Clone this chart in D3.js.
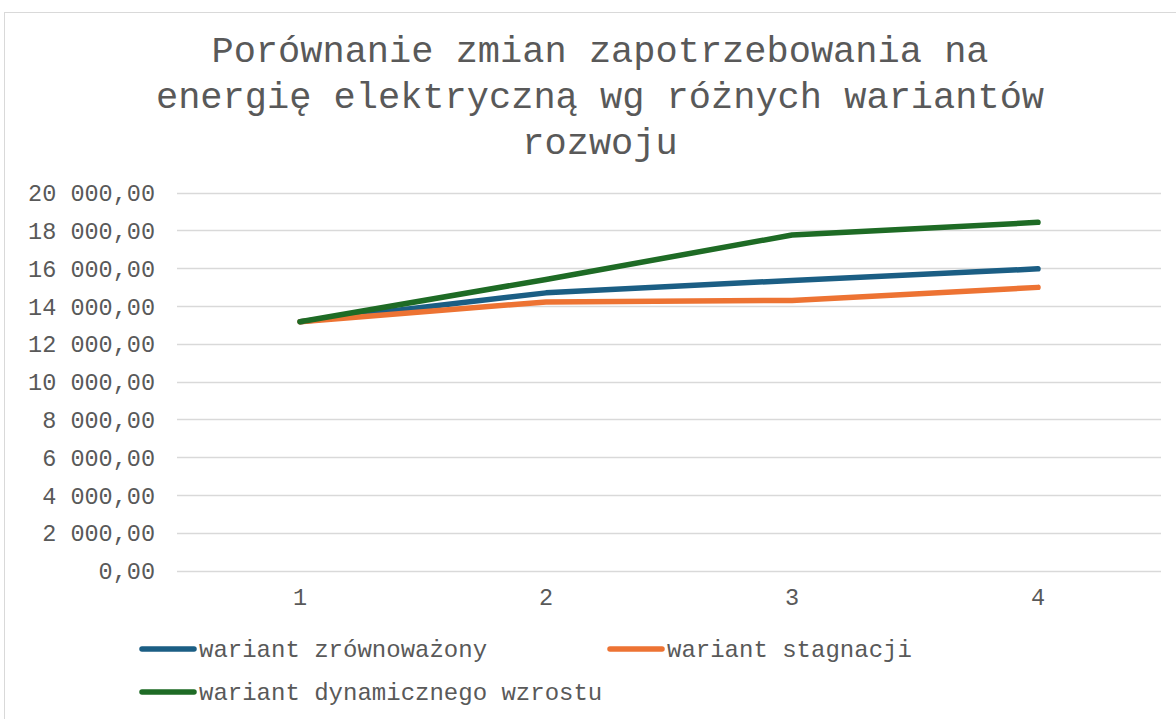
<!DOCTYPE html>
<html><head><meta charset="utf-8">
<script src="https://cdn.jsdelivr.net/npm/d3@7"></script>
<style>body{margin:0;background:#fff}svg{display:block}text{font-family:"Liberation Mono","Courier New",monospace;fill:#595959}</style>
</head><body><svg id="c" width="1176" height="719"></svg>
<script>
const categories = ["1","2","3","4"];
const seriesNames = ["wariant zrównoważony","wariant stagnacji","wariant dynamicznego wzrostu"];
const zrownowazony = [13160, 14690, 15350, 15960];
const stagnacji = [13160, 14210, 14290, 14980];
const dynamiczny = [13160, 15400, 17750, 18420];
const yTicks = [0,2000,4000,6000,8000,10000,12000,14000,16000,18000,20000];
const titleLines = ["Porównanie zmian zapotrzebowania na","energię elektryczną wg różnych wariantów","rozwoju"];
const colors = ["#1b5e84","#ed7333","#1e6b25"];
const seriesData = [zrownowazony, stagnacji, dynamiczny];

const svg = d3.select("#c");
svg.append("rect").attr("x",4.5).attr("y",12.5).attr("width",1200).attr("height",800)
  .attr("fill","#fff").attr("stroke","#d9d9d9").attr("stroke-width",1);

svg.selectAll("text.title").data(titleLines).join("text")
  .attr("x",600).attr("y",(d,i)=>62+i*46).attr("text-anchor","middle")
  .style("font-size","37px").text(d=>d);

const x = d3.scaleBand().domain(categories).range([177,1161]);
const y = d3.scaleLinear().domain([0,20000]).range([570.5,192.5]);

const fmt = v => { const s = d3.format(",.2f")(v); return s.replace(/,/g," ").replace(".",","); };

const grid = svg.append("g");
grid.selectAll("line").data(yTicks).join("line")
  .attr("x1",177).attr("x2",1161).attr("y1",d=>Math.round(y(d))+0.5).attr("y2",d=>Math.round(y(d))+0.5)
  .attr("stroke","#d9d9d9").attr("stroke-width",1.5);

const yAxis = svg.append("g").attr("transform","translate(155,0)")
  .call(d3.axisLeft(y).tickValues(yTicks).tickFormat(fmt).tickSize(0).tickPadding(0));
yAxis.select(".domain").remove();
yAxis.selectAll("text").style("font-size","23.5px").attr("dy","0.35em").attr("fill","#595959");

const xAxis = svg.append("g").attr("transform","translate(0,597)")
  .call(d3.axisBottom(x).tickSize(0).tickPadding(0));
xAxis.select(".domain").remove();
xAxis.selectAll("text").style("font-size","23.5px").attr("dy","0.35em").attr("fill","#595959");

const line = d3.line().x((d,i)=>x(categories[i])+x.bandwidth()/2).y(d=>y(d));
svg.selectAll("path.s").data(seriesData).join("path").attr("class","s")
  .attr("d",line).attr("fill","none").attr("stroke",(d,i)=>colors[i])
  .attr("stroke-width",5.5).attr("stroke-linecap","round").attr("stroke-linejoin","round");

const legendPos = [[140,649],[608,649],[140,692]];
const lg = svg.selectAll("g.lg").data(seriesNames).join("g")
  .attr("transform",(d,i)=>`translate(${legendPos[i][0]},${legendPos[i][1]})`);
lg.append("line").attr("x1",2).attr("x2",54).attr("y1",0).attr("y2",0)
  .attr("stroke",(d,i)=>colors[i]).attr("stroke-width",5.5).attr("stroke-linecap","round");
lg.append("text").attr("x",59).attr("y",0).attr("dy","0.35em").style("font-size","24px").text(d=>d);
</script></body></html>
